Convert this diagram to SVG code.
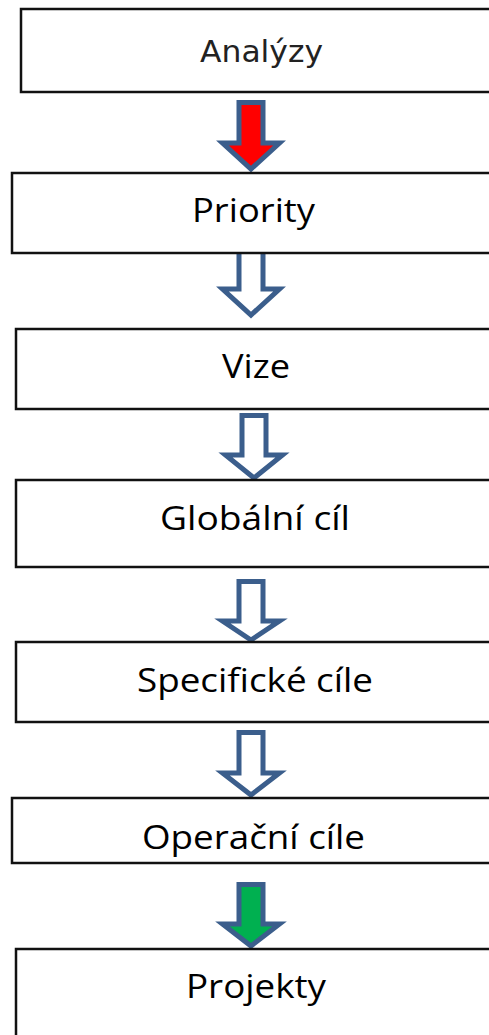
<svg xmlns="http://www.w3.org/2000/svg" width="489" height="1035" viewBox="0 0 489 1035">
<style>
.box{fill:#fff;stroke:#111;stroke-width:2.5}
.lbl{font-family:"Open Sans","Noto Sans",sans-serif;font-size:33px;fill:#000}
.lbl0{font-family:"DejaVu Sans","Liberation Sans",sans-serif;font-size:30px;fill:#222}
.arr{stroke:#3B5E8C;stroke-width:5;stroke-linejoin:miter}
</style>
<rect width="489" height="1035" fill="#fff"/>
<g id="connectors">
<path class="arr" fill="#FF0000" d="M239,102.5 H263 V143 H279.5 L251,169 L222.5,143 H239 Z"/>
<path class="arr" fill="#fff" d="M239,249 H263 V289 H279.5 L251,315 L222.5,289 H239 Z"/>
<path class="arr" fill="#fff" d="M242,415.5 H266 V455 H282.5 L254,478 L225.5,455 H242 Z"/>
<path class="arr" fill="#fff" d="M239,581.5 H263 V621 H279.5 L251,640 L222.5,621 H239 Z"/>
<path class="arr" fill="#fff" d="M239,732.5 H263 V773 H279.5 L251,795 L222.5,773 H239 Z"/>
<path class="arr" fill="#00B050" d="M239,884.5 H263 V924 H279.5 L251,946 L222.5,924 H239 Z"/>
</g>
<g id="n-analyzy"><rect class="box" x="21" y="9" width="490" height="83"/><text class="lbl0" x="200" y="62" textLength="123" lengthAdjust="spacingAndGlyphs">Analýzy</text></g>
<g id="n-priority"><rect class="box" x="12" y="173" width="490" height="80"/><text class="lbl" x="192" y="222" textLength="123" lengthAdjust="spacingAndGlyphs">Priority</text></g>
<g id="n-vize"><rect class="box" x="16" y="329" width="490" height="80"/><text class="lbl" x="222" y="378" textLength="68" lengthAdjust="spacingAndGlyphs">Vize</text></g>
<g id="n-globalni"><rect class="box" x="16" y="480" width="490" height="87"/><text class="lbl" x="160" y="530" textLength="190" lengthAdjust="spacingAndGlyphs">Globální cíl</text></g>
<g id="n-specificke"><rect class="box" x="16" y="642" width="490" height="80"/><text class="lbl" x="137" y="692" textLength="236" lengthAdjust="spacingAndGlyphs">Specifické cíle</text></g>
<g id="n-operacni"><rect class="box" x="12" y="798" width="490" height="65"/><text class="lbl" x="142" y="849" textLength="223" lengthAdjust="spacingAndGlyphs">Operační cíle</text></g>
<g id="n-projekty"><rect class="box" x="16" y="949" width="490" height="100"/><text class="lbl" x="186" y="998" textLength="140" lengthAdjust="spacingAndGlyphs">Projekty</text></g>
</svg>
